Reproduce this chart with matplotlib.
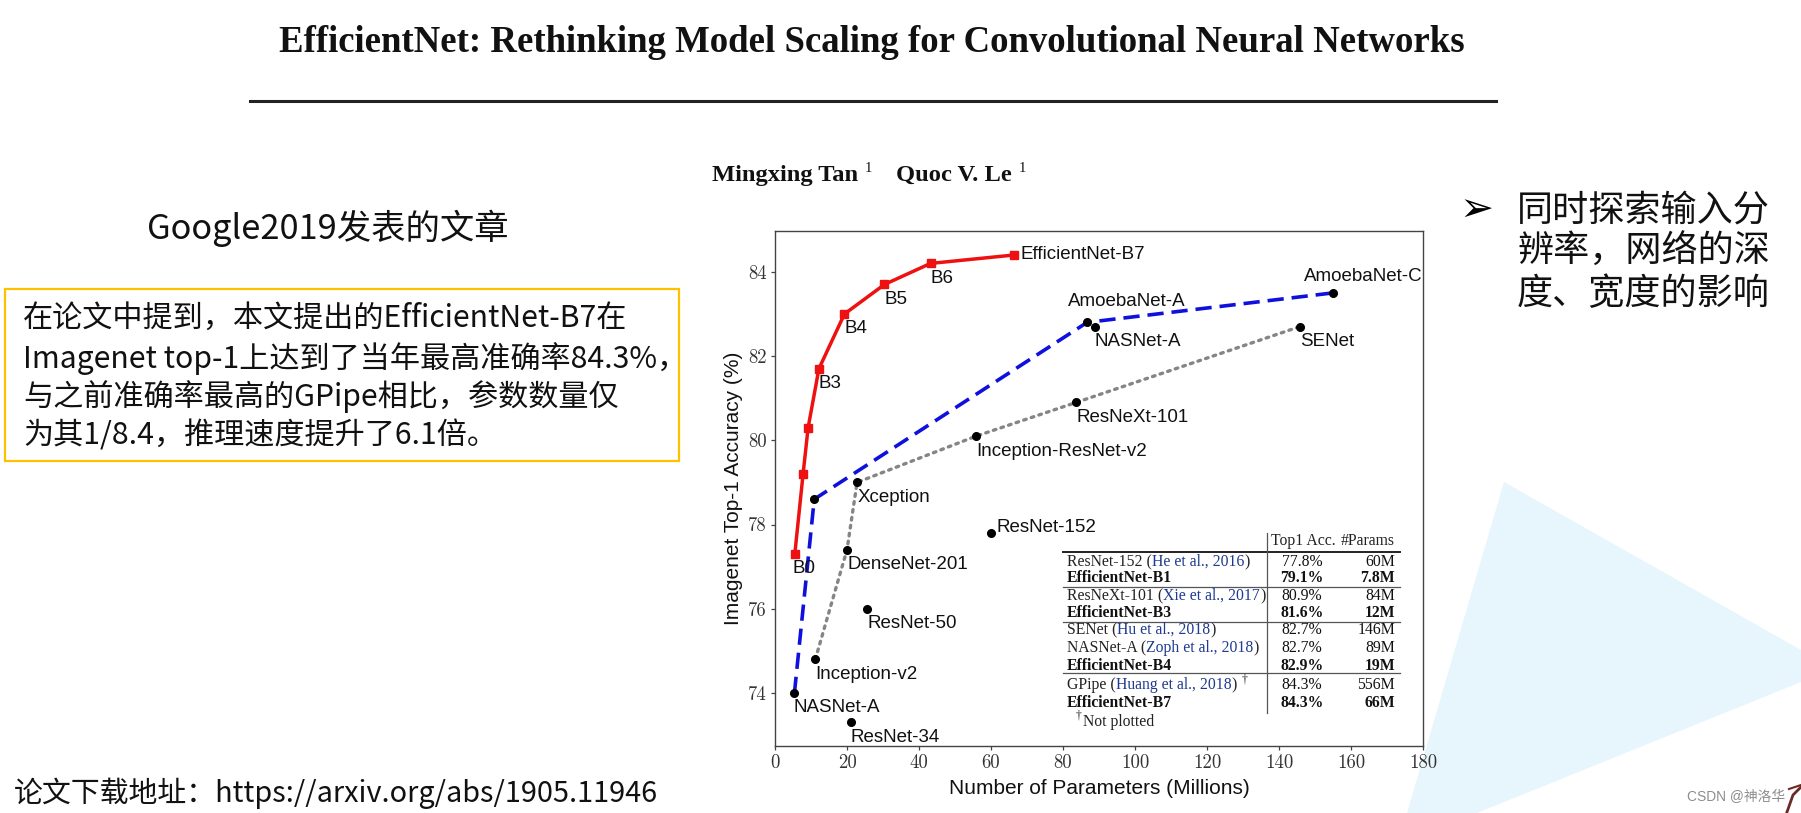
import matplotlib
matplotlib.use('Agg')
import matplotlib.pyplot as plt
from matplotlib.patches import Polygon, Rectangle
from matplotlib.lines import Line2D

# ---------------- data ----------------
eff_params = [5.5, 7.8, 9.2, 12.2, 19.3, 30.4, 43.2, 66.4]
eff_acc = [77.3, 79.2, 80.3, 81.7, 83.0, 83.7, 84.2, 84.4]
eff_labels = ['B0', '', '', 'B3', 'B4', 'B5', 'B6', 'EfficientNet-B7']

nas_params = [5.4, 10.9, 86.7, 155.0]
nas_acc = [74.0, 78.6, 82.8, 83.5]
nas_labels = ['NASNet-A', '', 'AmoebaNet-A', 'AmoebaNet-C']

hand_params = [11.2, 20.0, 22.8, 55.9, 83.7, 145.8]
hand_acc = [74.8, 77.4, 79.0, 80.1, 80.9, 82.7]
hand_labels = ['Inception-v2', 'DenseNet-201', 'Xception',
               'Inception-ResNet-v2', 'ResNeXt-101', 'SENet']

other_params = [60.0, 25.6, 21.0, 88.8]
other_acc = [77.8, 76.0, 73.3, 82.7]
other_labels = ['ResNet-152', 'ResNet-50', 'ResNet-34', 'NASNet-A']

x_ticks = [0, 20, 40, 60, 80, 100, 120, 140, 160, 180]
y_ticks = [74, 76, 78, 80, 82, 84]

tab_models = ['ResNet-152', 'EfficientNet-B1', 'ResNeXt-101', 'EfficientNet-B3',
              'SENet', 'NASNet-A', 'EfficientNet-B4', 'GPipe', 'EfficientNet-B7']
tab_refs = ['He et al., 2016', '', 'Xie et al., 2017', '', 'Hu et al., 2018',
            'Zoph et al., 2018', '', 'Huang et al., 2018', '']
tab_acc = ['77.8%', '79.1%', '80.9%', '81.6%', '82.7%', '82.7%', '82.9%', '84.3%', '84.3%']
tab_params = ['60M', '7.8M', '84M', '12M', '146M', '89M', '19M', '556M', '66M']
tab_bold = [False, True, False, True, False, False, True, False, True]

title_text = 'EfficientNet: Rethinking Model Scaling for Convolutional Neural Networks'
box_lines = ['在论文中提到，本文提出的EfficientNet-B7在',
             'Imagenet top-1上达到了当年最高准确率84.3%，',
             '与之前准确率最高的GPipe相比，参数数量仅',
             '为其1/8.4，推理速度提升了6.1倍。']
right_lines = ['同时探索输入分', '辨率，网络的深', '度、宽度的影响']

# ---------------- figure ----------------
W, H = 1801, 813
fig = plt.figure(figsize=(W / 100, H / 100), dpi=100)
fig.patch.set_facecolor('white')


def fx(px):
    return px / W


def fy(py):
    return 1 - py / H


fig.canvas.draw()
R = fig.canvas.get_renderer()


def fit(t, width_px):
    w = t.get_window_extent(R).width
    t.set_fontsize(t.get_fontsize() * width_px / w)
    return t


def width_of(t):
    return t.get_window_extent(R).width


CJK = ['Noto Sans CJK SC', 'DejaVu Sans']
SERIF = ['Liberation Serif', 'DejaVu Serif']
SANS = ['Liberation Sans', 'DejaVu Sans']

# light blue triangle decoration (behind everything)
tri = Polygon([(fx(1504), fy(482)), (fx(1801), fy(650)), (fx(1801), fy(682)),
               (fx(1477), fy(813)), (fx(1407), fy(813))],
              closed=True, transform=fig.transFigure, facecolor='#E7F6FC',
              edgecolor='none', zorder=-5)
fig.patches.append(tri)

# title
t = fig.text(fx(872), fy(42), title_text, ha='center', va='center',
             family=SERIF, weight='bold', fontsize=25, color='#111111')
fit(t, 1185)
fig.add_artist(Line2D([fx(250), fx(1496)], [fy(101), fy(101)], color='#222222',
                      lw=2.2, transform=fig.transFigure))

# authors
a1 = fig.text(fx(712), fy(175), 'Mingxing Tan', ha='left', va='center',
              family=SERIF, weight='bold', fontsize=17, color='#111111')
fit(a1, 147)
fs_a = a1.get_fontsize()
fig.text(fx(865), fy(168), '1', ha='left', va='center', family=SERIF,
         fontsize=fs_a * 0.6, color='#111111')
a2 = fig.text(fx(896), fy(175), 'Quoc V. Le', ha='left', va='center',
              family=SERIF, weight='bold', fontsize=fs_a, color='#111111')
fig.text(fx(1019), fy(168), '1', ha='left', va='center', family=SERIF,
         fontsize=fs_a * 0.6, color='#111111')

# left texts
g = fig.text(fx(147), fy(228), 'Google2019发表的文章', ha='left', va='center',
             family=CJK, fontsize=24, color='#111111')
fit(g, 362)

fig.patches.append(Rectangle((fx(5), fy(461)), fx(679) - fx(5), fy(289) - fy(461),
                             transform=fig.transFigure, facecolor='none',
                             edgecolor='#FFC000', lw=1.6, zorder=1))
box_y = [318, 359, 397, 436]
bt = []
for line, yy in zip(box_lines, box_y):
    bt.append(fig.text(fx(23), fy(yy), line, ha='left', va='center', family=CJK,
                       fontsize=20, color='#111111'))
fit(bt[0], 604)
for tt in bt[1:]:
    tt.set_fontsize(bt[0].get_fontsize())

b = fig.text(fx(14), fy(793), '论文下载地址：https://arxiv.org/abs/1905.11946',
             ha='left', va='center', family=CJK, fontsize=20, color='#111111')
fit(b, 644)

# right bullet text
arr = fig.text(fx(1459), fy(211), '➢', ha='left', va='center',
               family=['DejaVu Sans'], weight='bold', fontsize=20,
               color='#000000')
fit(arr, 34)
right_y = [211, 252, 294]
rt = []
for line, yy in zip(right_lines, right_y):
    rt.append(fig.text(fx(1517), fy(yy), line, ha='left', va='center',
                       family=CJK, fontsize=24, color='#111111'))
fit(rt[0], 253)
for tt in rt[1:]:
    tt.set_fontsize(rt[0].get_fontsize())

# watermark
wm = fig.text(fx(1687), fy(797), 'CSDN @神洛华', ha='left', va='center',
              family=['Liberation Sans', 'Noto Sans CJK SC'], fontsize=11,
              color='#8c8c8c')
fit(wm, 98)
fig.add_artist(Line2D([fx(1787), fx(1793), fx(1801)], [fy(812), fy(795), fy(787)],
                      color='#6b2a25', lw=2.0, transform=fig.transFigure))
fig.add_artist(Line2D([fx(1789), fx(1801)], [fy(789), fy(785)],
                      color='#6b2a25', lw=1.5, transform=fig.transFigure))

# ---------------- axes ----------------
ax = fig.add_axes([fx(775), fy(746), fx(1423) - fx(775), fy(231) - fy(746)],
                  zorder=1)
ax.set_xlim(0, 180)
ax.set_ylim(72.74, 84.97)
ax.set_facecolor('white')
for s in ax.spines.values():
    s.set_color('#444444')
    s.set_linewidth(1.0)
ax.set_xticks(x_ticks)
ax.set_yticks(y_ticks)
ax.tick_params(direction='out', length=3, width=0.9, colors='#444444',
               labelsize=13.5, pad=3, labelcolor='#333333')
for lab in ax.get_xticklabels() + ax.get_yticklabels():
    lab.set_fontfamily('cmr10')

ax.plot(hand_params, hand_acc, linestyle=(0, (0.8, 1.6)), color='#858585', lw=2.4,
        zorder=2, dash_capstyle='round')
ax.plot(nas_params, nas_acc, linestyle=(0, (4.5, 2.2)), color='#1010dd', lw=2.6,
        zorder=2)
ax.plot(eff_params, eff_acc, '-', color='#ee1111', lw=2.5, marker='s',
        markersize=6.3, zorder=4)
ax.plot(nas_params, nas_acc, 'o', color='#000000', markersize=5.5, zorder=3)
ax.plot(hand_params, hand_acc, 'o', color='#000000', markersize=5.5, zorder=3)
ax.plot(other_params, other_acc, 'o', color='#000000', markersize=5.5, zorder=3)

default_off = (0, -10.8)
special_off = {'EfficientNet-B7': (4.3, 0.5), 'ResNet-152': (4.3, 3.6),
               'AmoebaNet-A': (-13.7, 15.1), 'AmoebaNet-C': (-21.0, 11.5),
               'B0': (-1.5, -10.8)}
for xs, ys, labs in [(eff_params, eff_acc, eff_labels),
                     (nas_params, nas_acc, nas_labels),
                     (hand_params, hand_acc, hand_labels),
                     (other_params, other_acc, other_labels)]:
    for xv, yv, lab in zip(xs, ys, labs):
        if not lab:
            continue
        off = special_off.get(lab, default_off)
        if lab == 'NASNet-A' and xv < 50:
            off = (-1, -10.8)
        ax.annotate(lab, (xv, yv), xytext=off, textcoords='offset points',
                    ha='left', va='center', family=SANS, fontsize=13.5,
                    color='#111111', zorder=5)

fig.text(fx(1099), fy(788), 'Number of Parameters (Millions)', ha='center',
         va='center', family=SANS, fontsize=15, color='#111111')
fig.text(fx(733), fy(488.5), 'Imagenet Top-1 Accuracy (%)', ha='center',
         va='center', rotation=90, family=SANS, fontsize=15, color='#111111')

# ---------------- table ----------------
TF = 11.3
BLUE = '#1f3a8f'
tab_y = [562, 578, 596, 613, 630, 648, 666, 685, 703]


def seq(x_px, y_px, pieces, **kw):
    x = x_px
    for txt, col in pieces:
        tt = fig.text(fx(x), fy(y_px), txt, ha='left', va='center', color=col,
                      family=SERIF, fontsize=TF, zorder=6, **kw)
        x += width_of(tt)
    return x


fig.text(fx(1271), fy(541), 'Top1 Acc.', ha='left', va='center', family=SERIF,
         fontsize=TF, color='#222222', zorder=6)
fig.text(fx(1395), fy(541), '#Params', ha='right', va='center', family=SERIF,
         fontsize=TF, color='#222222', zorder=6)
for i in range(len(tab_models)):
    yy = tab_y[i]
    wt = 'bold' if tab_bold[i] else 'normal'
    if tab_refs[i]:
        xe = seq(1067, yy, [(tab_models[i] + ' (', '#222222'),
                            (tab_refs[i], BLUE), (')', '#222222')])
        if tab_models[i] == 'GPipe':
            fig.text(fx(xe + 5), fy(yy - 6), '†', ha='left', va='center',
                     family=SERIF, fontsize=TF * 0.75, color='#222222', zorder=6)
    else:
        fig.text(fx(1067), fy(yy), tab_models[i], ha='left', va='center',
                 family=SERIF, fontsize=TF, weight=wt, color='#111111', zorder=6)
    fig.text(fx(1302), fy(yy), tab_acc[i], ha='center', va='center',
             family=SERIF, fontsize=TF, weight=wt, color='#111111', zorder=6)
    fig.text(fx(1395), fy(yy), tab_params[i], ha='right', va='center',
             family=SERIF, fontsize=TF, weight=wt, color='#111111', zorder=6)

fig.text(fx(1076), fy(716), '†', ha='left', va='center', family=SERIF,
         fontsize=TF * 0.75, color='#222222', zorder=6)
fig.text(fx(1083), fy(722), 'Not plotted', ha='left', va='center', family=SERIF,
         fontsize=TF, color='#222222', zorder=6)

fig.add_artist(Line2D([fx(1063), fx(1400)], [fy(552), fy(552)], color='#222222',
                      lw=1.4, transform=fig.transFigure, zorder=6))
for yy in [587, 622, 673]:
    fig.add_artist(Line2D([fx(1063), fx(1400)], [fy(yy), fy(yy)], color='#555555',
                          lw=0.9, transform=fig.transFigure, zorder=6))
fig.add_artist(Line2D([fx(1267), fx(1267)], [fy(533), fy(713)], color='#555555',
                      lw=0.9, transform=fig.transFigure, zorder=6))

fig.savefig('out.png', dpi=100, facecolor='white')
